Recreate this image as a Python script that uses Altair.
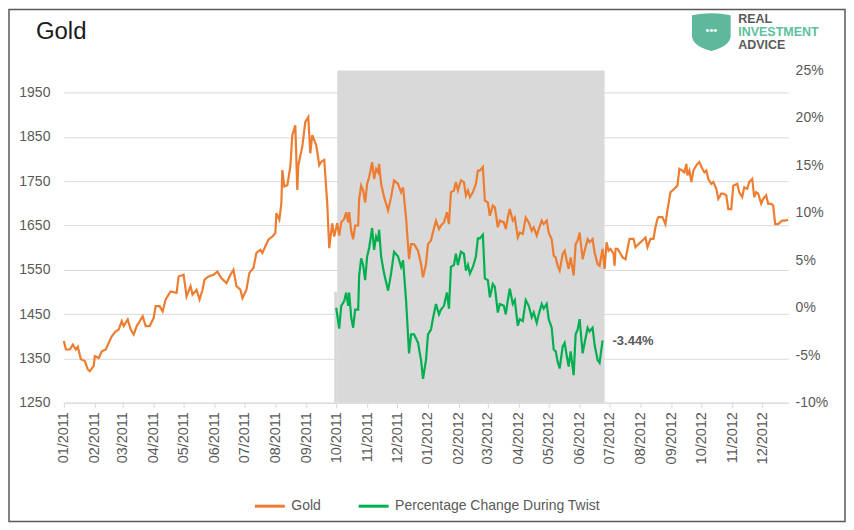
import altair as alt
import pandas as pd

# ---------------- data ----------------
GOLD_DATES = [
    "2011-01-01", "2011-01-03", "2011-01-07", "2011-01-10", "2011-01-13", "2011-01-15", "2011-01-18", "2011-01-22",
    "2011-01-25", "2011-01-27", "2011-01-31", "2011-02-01", "2011-02-05", "2011-02-08", "2011-02-12", "2011-02-15",
    "2011-02-18", "2011-02-22", "2011-02-25", "2011-02-28", "2011-03-02", "2011-03-06", "2011-03-09", "2011-03-12",
    "2011-03-15", "2011-03-17", "2011-03-21", "2011-03-24", "2011-03-28", "2011-04-01", "2011-04-03", "2011-04-07",
    "2011-04-10", "2011-04-13", "2011-04-18", "2011-04-24", "2011-04-26", "2011-05-01", "2011-05-04", "2011-05-08",
    "2011-05-10", "2011-05-14", "2011-05-17", "2011-05-20", "2011-05-22", "2011-05-26", "2011-05-31", "2011-06-04",
    "2011-06-08", "2011-06-13", "2011-06-17", "2011-06-20", "2011-06-23", "2011-06-27", "2011-06-29", "2011-07-03",
    "2011-07-06", "2011-07-10", "2011-07-13", "2011-07-17", "2011-07-19", "2011-07-22", "2011-07-25", "2011-07-29",
    "2011-08-01", "2011-08-02", "2011-08-05", "2011-08-07", "2011-08-08", "2011-08-10", "2011-08-13", "2011-08-16",
    "2011-08-18", "2011-08-21", "2011-08-23", "2011-08-24", "2011-08-28", "2011-08-31", "2011-09-03", "2011-09-05",
    "2011-09-07", "2011-09-11", "2011-09-14", "2011-09-16", "2011-09-19", "2011-09-22", "2011-09-24", "2011-09-27",
    "2011-09-29", "2011-10-02", "2011-10-04", "2011-10-06", "2011-10-09", "2011-10-11", "2011-10-13", "2011-10-14",
    "2011-10-16", "2011-10-18", "2011-10-20", "2011-10-23", "2011-10-24", "2011-10-26", "2011-10-28", "2011-10-30",
    "2011-11-01", "2011-11-03", "2011-11-06", "2011-11-08", "2011-11-10", "2011-11-12", "2011-11-13", "2011-11-15",
    "2011-11-18", "2011-11-22", "2011-11-25", "2011-11-28", "2011-12-02", "2011-12-05", "2011-12-07", "2011-12-10",
    "2011-12-13", "2011-12-15", "2011-12-18", "2011-12-22", "2011-12-25", "2011-12-27", "2011-12-30",
    "2012-01-01", "2012-01-04", "2012-01-06", "2012-01-09", "2012-01-12", "2012-01-14", "2012-01-17", "2012-01-20",
    "2012-01-22", "2012-01-24", "2012-01-27", "2012-01-29", "2012-01-31", "2012-02-03", "2012-02-06", "2012-02-08",
    "2012-02-10", "2012-02-12", "2012-02-15", "2012-02-18", "2012-02-20", "2012-02-22", "2012-02-25", "2012-02-27",
    "2012-03-01", "2012-03-03", "2012-03-06", "2012-03-08", "2012-03-11", "2012-03-13", "2012-03-17", "2012-03-19",
    "2012-03-21", "2012-03-23", "2012-03-26", "2012-03-28", "2012-03-31", "2012-04-02", "2012-04-05", "2012-04-08",
    "2012-04-11", "2012-04-14", "2012-04-16", "2012-04-19", "2012-04-21", "2012-04-24", "2012-04-26", "2012-04-29",
    "2012-05-01", "2012-05-04", "2012-05-06", "2012-05-08", "2012-05-10", "2012-05-12", "2012-05-15", "2012-05-17",
    "2012-05-19", "2012-05-21", "2012-05-23", "2012-05-26", "2012-05-28", "2012-05-30", "2012-06-01", "2012-06-04",
    "2012-06-06", "2012-06-09", "2012-06-11", "2012-06-14", "2012-06-16", "2012-06-19", "2012-06-21", "2012-06-24",
    "2012-06-26", "2012-06-28", "2012-06-30", "2012-07-02", "2012-07-05", "2012-07-06", "2012-07-07", "2012-07-09",
    "2012-07-11", "2012-07-14", "2012-07-17", "2012-07-19", "2012-07-21", "2012-07-25", "2012-07-27", "2012-07-30",
    "2012-08-03", "2012-08-06", "2012-08-08", "2012-08-11", "2012-08-14", "2012-08-16", "2012-08-18", "2012-08-19",
    "2012-08-23", "2012-08-26", "2012-08-28", "2012-08-31", "2012-09-04", "2012-09-07", "2012-09-09", "2012-09-12",
    "2012-09-14", "2012-09-16", "2012-09-17", "2012-09-19", "2012-09-21", "2012-09-23", "2012-09-25", "2012-09-27",
    "2012-09-29", "2012-10-02", "2012-10-04", "2012-10-06", "2012-10-08", "2012-10-11", "2012-10-13", "2012-10-16",
    "2012-10-18", "2012-10-21", "2012-10-23", "2012-10-26", "2012-10-28", "2012-10-31", "2012-11-02", "2012-11-06",
    "2012-11-08", "2012-11-11", "2012-11-13", "2012-11-16", "2012-11-18", "2012-11-21", "2012-11-23", "2012-11-25",
    "2012-11-27", "2012-11-30", "2012-12-02", "2012-12-05", "2012-12-07", "2012-12-10", "2012-12-12", "2012-12-14",
    "2012-12-17", "2012-12-21", "2012-12-24", "2012-12-27",
]
GOLD_VALUES = [
    1389, 1370, 1370, 1381, 1370, 1376, 1348, 1344,
    1325, 1321, 1333, 1355, 1351, 1366, 1370, 1385,
    1400, 1411, 1415, 1434, 1423, 1438, 1415, 1404,
    1423, 1430, 1445, 1423, 1423, 1441, 1468, 1468,
    1456, 1483, 1501, 1498, 1535, 1539, 1490, 1513,
    1494, 1505, 1483, 1505, 1528, 1535, 1539, 1546,
    1531, 1520, 1539, 1550, 1513, 1505, 1486, 1505,
    1543, 1554, 1588, 1595, 1588, 1603, 1618, 1625,
    1633, 1678, 1663, 1700, 1775, 1738, 1741, 1783,
    1854, 1876, 1730, 1786, 1828, 1884, 1895, 1813,
    1854, 1831, 1786, 1794, 1798, 1700, 1599, 1655,
    1625, 1655, 1627, 1657, 1665, 1680, 1657, 1680,
    1638, 1619, 1650, 1650, 1710, 1740, 1729, 1702,
    1744, 1759, 1793, 1755, 1778, 1770, 1789, 1744,
    1714, 1684, 1714, 1752, 1744, 1725, 1736, 1668,
    1574, 1608, 1608, 1593, 1563, 1533, 1563,
    1608, 1616, 1635, 1661, 1642, 1650, 1657, 1680,
    1653, 1725, 1729, 1748, 1729, 1752, 1748, 1718,
    1729, 1714, 1725, 1744, 1774, 1774, 1782, 1706,
    1702, 1672, 1695, 1691, 1646, 1661, 1657, 1642,
    1668, 1687, 1661, 1668, 1623, 1634, 1631, 1668,
    1657, 1638, 1646, 1627, 1642, 1661, 1653, 1661,
    1634, 1619, 1582, 1578, 1559, 1548, 1586, 1593,
    1571, 1552, 1578, 1537, 1608, 1616, 1634, 1574,
    1593, 1619, 1612, 1619, 1589, 1563, 1559, 1597,
    1552, 1612, 1593, 1597, 1586, 1559, 1597, 1597,
    1590, 1578, 1574, 1597, 1620, 1620, 1601, 1608,
    1616, 1623, 1601, 1620, 1620, 1646, 1665, 1669,
    1669, 1653, 1684, 1725, 1733, 1740, 1778, 1774,
    1770, 1789, 1763, 1774, 1748, 1774, 1782, 1789,
    1793, 1778, 1770, 1774, 1755, 1744, 1748, 1733,
    1710, 1722, 1722, 1718, 1687, 1687, 1740, 1744,
    1725, 1714, 1736, 1733, 1748, 1755, 1714, 1725,
    1722, 1699, 1710, 1718, 1699, 1699, 1695, 1653,
    1653, 1661, 1661, 1663,
]

TWIST_DATES = [
    "2011-10-01", "2011-10-04", "2011-10-06", "2011-10-09", "2011-10-11", "2011-10-13", "2011-10-14", "2011-10-16",
    "2011-10-18", "2011-10-20", "2011-10-23", "2011-10-24", "2011-10-26", "2011-10-28", "2011-10-30", "2011-11-01",
    "2011-11-03", "2011-11-06", "2011-11-08", "2011-11-10", "2011-11-12", "2011-11-13", "2011-11-15", "2011-11-18",
    "2011-11-22", "2011-11-25", "2011-11-28", "2011-12-02", "2011-12-05", "2011-12-07", "2011-12-10", "2011-12-13",
    "2011-12-15", "2011-12-18", "2011-12-22", "2011-12-25", "2011-12-27", "2011-12-30", "2012-01-01", "2012-01-04",
    "2012-01-06", "2012-01-09", "2012-01-12", "2012-01-14", "2012-01-17", "2012-01-20", "2012-01-22", "2012-01-24",
    "2012-01-27", "2012-01-29", "2012-01-31", "2012-02-03", "2012-02-06", "2012-02-08", "2012-02-10", "2012-02-12",
    "2012-02-15", "2012-02-18", "2012-02-20", "2012-02-22", "2012-02-25", "2012-02-27", "2012-03-01", "2012-03-03",
    "2012-03-06", "2012-03-08", "2012-03-11", "2012-03-13", "2012-03-17", "2012-03-19", "2012-03-21", "2012-03-23",
    "2012-03-26", "2012-03-28", "2012-03-31", "2012-04-02", "2012-04-05", "2012-04-08", "2012-04-11", "2012-04-14",
    "2012-04-16", "2012-04-19", "2012-04-21", "2012-04-24", "2012-04-26", "2012-04-29", "2012-05-01", "2012-05-04",
    "2012-05-06", "2012-05-08", "2012-05-10", "2012-05-12", "2012-05-15", "2012-05-17", "2012-05-19", "2012-05-21",
    "2012-05-23", "2012-05-26", "2012-05-28", "2012-05-30", "2012-06-01", "2012-06-04", "2012-06-06", "2012-06-09",
    "2012-06-11", "2012-06-14", "2012-06-16", "2012-06-19", "2012-06-21", "2012-06-24",
]
TWIST_PCT = [
    0.0, -2.2, 0.2, 0.7, 1.6, 0.2, 1.6, -1.0,
    -2.1, -0.2, -0.2, 3.4, 5.2, 4.5, 2.9, 5.4,
    6.3, 8.4, 6.1, 7.5, 7.0, 8.2, 5.4, 3.6,
    1.8, 3.6, 5.9, 5.4, 4.3, 5.0, 0.8, -4.8,
    -2.8, -2.8, -3.7, -5.5, -7.5, -5.5, -2.8, -2.3,
    -1.1, 0.4, -0.7, -0.2, 0.2, 1.6, -0.1, 4.3,
    4.5, 5.7, 4.5, 5.9, 5.7, 3.9, 4.5, 3.6,
    4.3, 5.4, 7.3, 7.3, 7.7, 3.1, 2.9, 1.1,
    2.5, 2.2, -0.5, 0.4, 0.2, -0.7, 0.8, 2.0,
    0.4, 0.8, -1.9, -1.2, -1.4, 0.8, 0.2, -1.0,
    -0.5, -1.6, -0.7, 0.4, -0.1, 0.4, -1.2, -2.1,
    -4.4, -4.6, -5.7, -6.4, -4.1, -3.7, -5.0, -6.2,
    -4.6, -7.1, -2.8, -2.3, -1.2, -4.8, -3.7, -2.1,
    -2.5, -2.1, -3.9, -5.5, -5.8, -3.44,
]

TWIST_START, TWIST_END = "2011-10-02", "2012-06-26"
TWIST_STUB = ["2011-09-29", "2011-10-02"]
TWIST_STUB_TOP = 1.7

LEFT_TICKS = [1250, 1350, 1450, 1550, 1650, 1750, 1850, 1950]
RIGHT_TICKS = [-10, -5, 0, 5, 10, 15, 20, 25]
MONTH_TICKS = [(2011, m) for m in range(1, 13)] + [(2012, m) for m in range(1, 13)]

SERIES = ["Gold", "Percentage Change During Twist"]
COLORS = ["#ED7D31", "#00B050"]

# ---------------- layout ----------------
W, H = 726, 333
FONT = "Liberation Sans"
GREY_TXT = "#595959"

gold_df = pd.DataFrame({"date": GOLD_DATES, "value": GOLD_VALUES, "series": SERIES[0]})
twist_df = pd.DataFrame({"date": TWIST_DATES, "pct": TWIST_PCT, "series": SERIES[1]})
last_df = twist_df.tail(1).assign(label=lambda d: d["pct"].map(lambda v: f"{v:.2f}%"))
box_df = pd.DataFrame({"start": [TWIST_START], "end": [TWIST_END]})
stub_df = pd.DataFrame({"start": [TWIST_STUB[0]], "end": [TWIST_STUB[1]], "lo": [RIGHT_TICKS[0]], "hi": [TWIST_STUB_TOP]})
one = pd.DataFrame({"k": [0]})

x_scale = alt.Scale(
    type="utc",
    domain=[alt.DateTime(year=2011, month=1, date=1, utc=True), alt.DateTime(year=2012, month=12, date=27, utc=True)],
)
x_axis = alt.Axis(
    values=[alt.DateTime(year=y, month=m, date=1, utc=True) for y, m in MONTH_TICKS],
    labelExpr="utcFormat(datum.value, '%m/%Y')", labelAngle=270, labelFontSize=14.5, labelColor=GREY_TXT,
    labelFont=FONT, domainColor="#D9D9D9", tickColor="#D9D9D9", tickSize=5, grid=False,
    title=None, labelPadding=4, labelOverlap=False,
)
left_scale = alt.Scale(domain=[1250, 2000], nice=False, zero=False)
left_axis = alt.Axis(values=LEFT_TICKS, orient="left", grid=True, gridColor="#D9D9D9", domain=False,
                     ticks=False, labelFontSize=14, labelColor=GREY_TXT, labelFont=FONT, labelPadding=14,
                     format="d", title=None)
right_scale = alt.Scale(domain=[-10, 25], nice=False, zero=False)
right_axis = alt.Axis(values=RIGHT_TICKS, orient="right", grid=False, domain=False, ticks=False,
                      labelFontSize=14, labelColor=GREY_TXT, labelFont=FONT, labelPadding=7,
                      labelExpr="datum.value + '%'", title=None)
color = alt.Color("series:N", scale=alt.Scale(domain=SERIES, range=COLORS),
                  legend=alt.Legend(orient="none", legendX=190, legendY=420, direction="horizontal",
                                    title=None, symbolType="stroke", symbolSize=900, symbolStrokeWidth=3,
                                    labelFontSize=14, labelColor=GREY_TXT, labelFont=FONT, labelLimit=400,
                                    columnPadding=31, labelOffset=5, padding=0))

box = alt.Chart(box_df).mark_rect(color="#D9D9D9").encode(
    x=alt.X("start:T", scale=x_scale, axis=x_axis), x2="end:T",
    y=alt.value(0), y2=alt.value(H))

gold = alt.Chart(gold_df).mark_line(strokeWidth=2.2).encode(
    x=alt.X("date:T", scale=x_scale, axis=x_axis),
    y=alt.Y("value:Q", scale=left_scale, axis=left_axis),
    color=color)

stub = alt.Chart(stub_df).mark_rect(color="#D9D9D9").encode(
    x=alt.X("start:T", scale=x_scale, axis=x_axis), x2="end:T",
    y=alt.Y("lo:Q", scale=right_scale, axis=right_axis), y2="hi:Q")
twist = alt.Chart(twist_df).mark_line(strokeWidth=2.2).encode(
    x=alt.X("date:T", scale=x_scale, axis=x_axis),
    y=alt.Y("pct:Q", scale=right_scale, axis=right_axis),
    color=color)
label = alt.Chart(last_df).mark_text(align="left", baseline="middle", dx=10, dy=1, fontSize=13,
                                      fontWeight="bold", color=GREY_TXT, font=FONT).encode(
    x=alt.X("date:T", scale=x_scale, axis=x_axis),
    y=alt.Y("pct:Q", scale=right_scale, axis=right_axis),
    text="label:N")
right_part = alt.layer(stub, twist, label)

title = alt.Chart(one).mark_text(text="Gold", align="left", baseline="middle", fontSize=24,
                                 font=FONT, color="#1a1a1a").encode(x=alt.value(-28), y=alt.value(-39))
shield = alt.Chart(one).mark_point(
    shape="M -1 -0.85 Q 0 -1.05 1 -0.85 L 1 0.25 Q 0.95 0.75 0 1 Q -0.95 0.75 -1 0.25 Z",
    filled=True, size=1500, color="#5DB89C", opacity=1, strokeWidth=0,
).encode(x=alt.value(649), y=alt.value(-39))
dots = alt.Chart(one).mark_text(text="•••", fontSize=11, color="white", align="center",
                                baseline="middle").encode(x=alt.value(649), y=alt.value(-40))
logo_real = alt.Chart(one).mark_text(text="REAL", align="left", baseline="middle", fontSize=12.5,
                                     fontWeight="bold", font=FONT, color="#5a5a5a").encode(
    x=alt.value(676), y=alt.value(-52))
logo_inv = alt.Chart(one).mark_text(text="INVESTMENT", align="left", baseline="middle", fontSize=12.5,
                                    fontWeight="bold", font=FONT, color="#5CC09E").encode(
    x=alt.value(676), y=alt.value(-39))
logo_adv = alt.Chart(one).mark_text(text="ADVICE", align="left", baseline="middle", fontSize=12.5,
                                    fontWeight="bold", font=FONT, color="#5a5a5a").encode(
    x=alt.value(676), y=alt.value(-26))
frame = alt.Chart(one).mark_rect(fill="transparent", stroke="#595959", strokeWidth=1.5).encode(
    x=alt.value(-55), x2=alt.value(783), y=alt.value(-61), y2=alt.value(452))

chart = alt.layer(
    box, gold, right_part, title, shield, dots, logo_real, logo_inv, logo_adv, frame
).resolve_scale(y="independent").properties(
    width=W, height=H,
    autosize=alt.AutoSizeParams(type="none"),
    padding={"left": 56, "top": 62, "right": 58, "bottom": 120},
    background="white",
).configure_view(stroke=None)

chart.save("out.html", embed_options={"renderer": "svg", "actions": False})
